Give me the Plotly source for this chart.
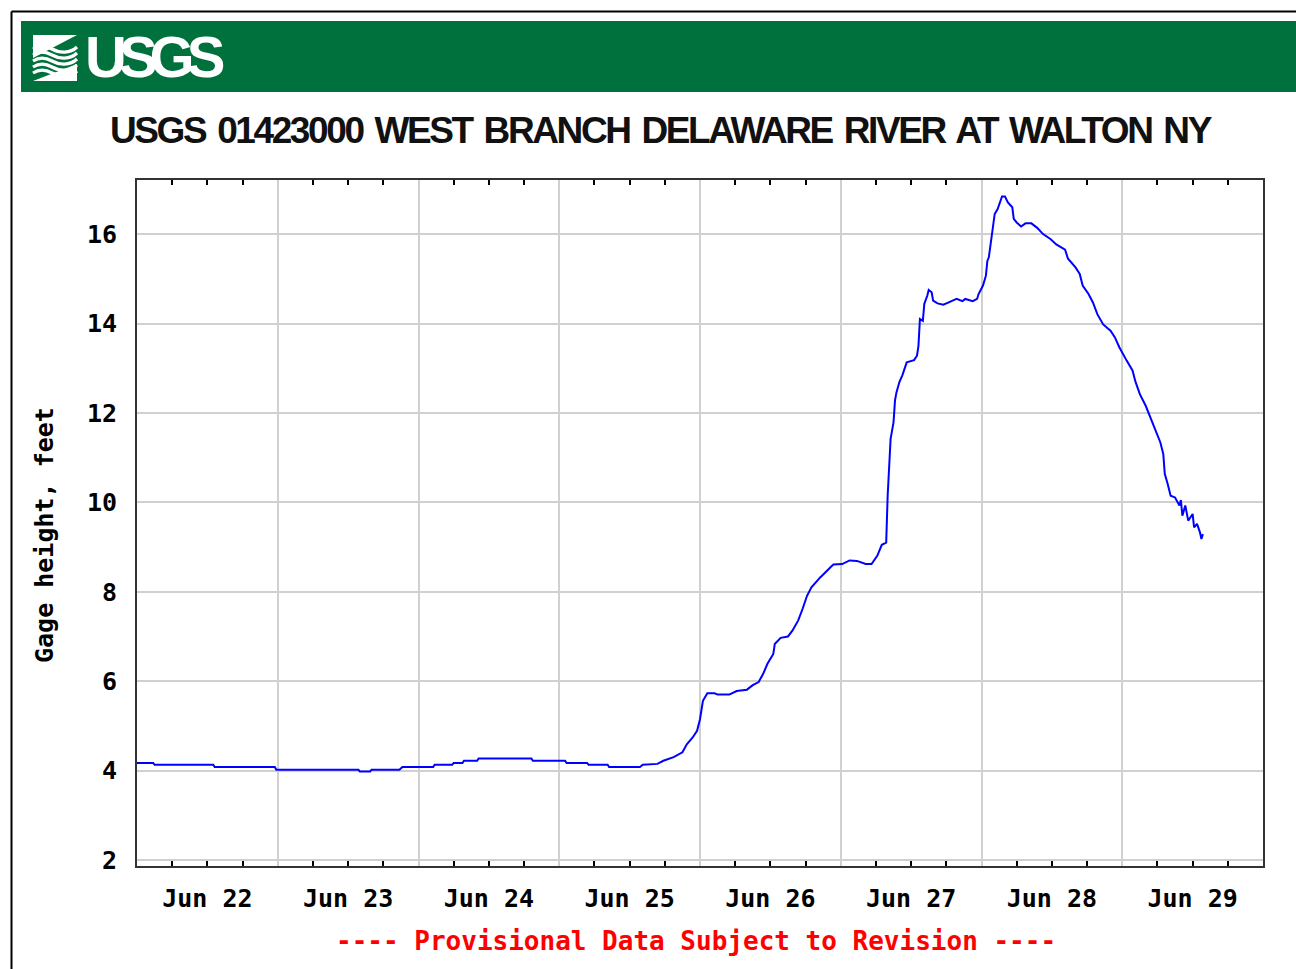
import plotly.graph_objects as go

# ---------------- data ----------------
times = [
    "2006-06-22 00:00", "2006-06-22 02:45", "2006-06-22 03:00", "2006-06-22 13:00", "2006-06-22 13:15",
    "2006-06-22 23:30", "2006-06-22 23:45", "2006-06-23 13:45", "2006-06-23 14:00", "2006-06-23 15:45",
    "2006-06-23 16:00", "2006-06-23 20:45", "2006-06-23 21:15", "2006-06-24 02:30", "2006-06-24 02:45",
    "2006-06-24 05:45", "2006-06-24 06:00", "2006-06-24 07:30", "2006-06-24 07:45", "2006-06-24 10:00",
    "2006-06-24 10:15", "2006-06-24 19:15", "2006-06-24 19:30", "2006-06-25 01:00", "2006-06-25 01:15",
    "2006-06-25 04:45", "2006-06-25 05:00", "2006-06-25 08:15", "2006-06-25 08:30", "2006-06-25 13:45",
    "2006-06-25 14:15", "2006-06-25 16:45", "2006-06-25 17:45", "2006-06-25 19:30", "2006-06-25 21:00",
    "2006-06-25 21:45", "2006-06-25 22:45", "2006-06-25 23:30", "2006-06-26 00:00", "2006-06-26 00:30",
    "2006-06-26 01:15", "2006-06-26 02:30", "2006-06-26 03:00", "2006-06-26 05:00", "2006-06-26 06:15",
    "2006-06-26 08:00", "2006-06-26 09:00", "2006-06-26 10:00", "2006-06-26 10:45", "2006-06-26 11:30",
    "2006-06-26 12:30", "2006-06-26 12:45", "2006-06-26 13:45", "2006-06-26 15:00", "2006-06-26 15:45",
    "2006-06-26 16:45", "2006-06-26 17:30", "2006-06-26 18:15", "2006-06-26 19:00", "2006-06-26 20:30",
    "2006-06-26 22:15", "2006-06-26 22:45", "2006-06-27 00:15", "2006-06-27 01:30", "2006-06-27 02:45",
    "2006-06-27 04:15", "2006-06-27 05:15", "2006-06-27 06:15", "2006-06-27 07:00", "2006-06-27 07:45",
    "2006-06-27 08:00", "2006-06-27 08:15", "2006-06-27 08:30", "2006-06-27 09:00", "2006-06-27 09:15",
    "2006-06-27 09:30", "2006-06-27 10:00", "2006-06-27 10:30", "2006-06-27 11:00", "2006-06-27 11:15",
    "2006-06-27 12:30", "2006-06-27 13:00", "2006-06-27 13:15", "2006-06-27 13:30", "2006-06-27 14:00",
    "2006-06-27 14:15", "2006-06-27 14:45", "2006-06-27 15:00", "2006-06-27 15:30", "2006-06-27 15:45",
    "2006-06-27 16:30", "2006-06-27 17:30", "2006-06-27 18:30", "2006-06-27 19:45", "2006-06-27 20:45",
    "2006-06-27 21:15", "2006-06-27 22:30", "2006-06-27 23:15", "2006-06-27 23:30", "2006-06-28 00:15",
    "2006-06-28 00:45", "2006-06-28 01:00", "2006-06-28 01:15", "2006-06-28 01:45", "2006-06-28 02:15",
    "2006-06-28 02:45", "2006-06-28 03:30", "2006-06-28 04:00", "2006-06-28 04:30", "2006-06-28 05:15",
    "2006-06-28 05:30", "2006-06-28 06:00", "2006-06-28 06:45", "2006-06-28 07:30", "2006-06-28 08:30",
    "2006-06-28 09:30", "2006-06-28 10:30", "2006-06-28 11:45", "2006-06-28 12:45", "2006-06-28 14:15",
    "2006-06-28 14:45", "2006-06-28 16:00", "2006-06-28 16:45", "2006-06-28 17:15", "2006-06-28 18:15",
    "2006-06-28 19:00", "2006-06-28 19:45", "2006-06-28 20:45", "2006-06-28 22:00", "2006-06-28 22:45",
    "2006-06-28 23:30", "2006-06-29 00:45", "2006-06-29 01:45", "2006-06-29 02:15", "2006-06-29 03:00",
    "2006-06-29 04:00", "2006-06-29 04:45", "2006-06-29 05:30", "2006-06-29 06:30", "2006-06-29 07:00",
    "2006-06-29 07:15", "2006-06-29 07:45", "2006-06-29 08:15", "2006-06-29 09:00", "2006-06-29 09:45",
    "2006-06-29 10:00", "2006-06-29 10:15", "2006-06-29 10:45", "2006-06-29 11:15", "2006-06-29 12:00",
    "2006-06-29 12:15", "2006-06-29 12:45", "2006-06-29 13:15", "2006-06-29 13:30", "2006-06-29 13:45",
]
gage_height_ft = [
    4.17, 4.17, 4.13, 4.13, 4.08,
    4.08, 4.02, 4.02, 3.98, 3.98,
    4.02, 4.02, 4.08, 4.08, 4.13,
    4.13, 4.17, 4.17, 4.22, 4.22,
    4.27, 4.27, 4.22, 4.22, 4.17,
    4.17, 4.13, 4.13, 4.08, 4.08,
    4.13, 4.15, 4.22, 4.30, 4.41,
    4.59, 4.74, 4.89, 5.15, 5.56,
    5.73, 5.73, 5.70, 5.70, 5.78,
    5.81, 5.91, 5.98, 6.16, 6.39,
    6.61, 6.83, 6.97, 7.00, 7.13,
    7.36, 7.62, 7.91, 8.10, 8.32,
    8.55, 8.61, 8.62, 8.70, 8.69,
    8.62, 8.62, 8.81, 9.05, 9.10,
    10.15, 10.82, 11.42, 11.79, 12.28,
    12.46, 12.69, 12.84, 13.02, 13.13,
    13.18, 13.28, 13.50, 14.10, 14.06,
    14.44, 14.62, 14.75, 14.70, 14.51,
    14.45, 14.42, 14.48, 14.55, 14.50,
    14.55, 14.50, 14.55, 14.66, 14.85,
    15.07, 15.40, 15.48, 15.93, 16.45,
    16.56, 16.84, 16.84, 16.71, 16.60,
    16.34, 16.26, 16.17, 16.24, 16.24,
    16.14, 16.00, 15.89, 15.77, 15.65,
    15.45, 15.26, 15.11, 14.85, 14.66,
    14.47, 14.21, 13.98, 13.84, 13.69,
    13.47, 13.17, 12.95, 12.70, 12.42,
    12.16, 11.90, 11.64, 11.34, 11.08,
    10.64, 10.41, 10.15, 10.11, 9.93,
    10.05, 9.70, 9.93, 9.59, 9.74,
    9.44, 9.52, 9.33, 9.18, 9.29,
]
x_range = ["2006-06-22 00:00", "2006-06-30 00:00"]
y_range = [1.866, 17.21]
y_ticks = [2, 4, 6, 8, 10, 12, 14, 16]

title_text = "USGS 01423000 WEST BRANCH DELAWARE RIVER AT WALTON NY"
y_title = "Gage height, feet"
footer_text = "---- Provisional Data Subject to Revision ----"
logo_text = "USGS"

# ---------------- layout geometry (pixels) ----------------
W, H = 1296, 969
L, R, T, B = 137, 1263, 180, 866

def xp(px):
    return (px - L) / (R - L)

def yp(py):
    return (B - py) / (B - T)

MONO = "DejaVu Sans Mono, Liberation Mono, monospace"
SANS = "Liberation Sans, Arial, sans-serif"

fig = go.Figure()
fig.add_trace(go.Scatter(
    x=times, y=gage_height_ft, mode="lines",
    line=dict(color="#0000FF", width=2),
    showlegend=False, hoverinfo="x+y",
))

shapes = []
# outer frame (left + top visible)
shapes.append(dict(type="line", xref="paper", yref="paper",
                   x0=xp(11.5), x1=xp(1300), y0=yp(11.5), y1=yp(11.5),
                   line=dict(color="#000", width=2)))
shapes.append(dict(type="line", xref="paper", yref="paper",
                   x0=xp(11.5), x1=xp(11.5), y0=yp(11.5), y1=yp(975),
                   line=dict(color="#000", width=2)))
# green banner
shapes.append(dict(type="rect", xref="paper", yref="paper",
                   x0=xp(21), x1=xp(1300), y0=yp(92), y1=yp(21),
                   fillcolor="#00703C", line=dict(width=0), layer="below"))

# wave logo mark (white wavy stripes)
def wave_path(y0, amp):
    d = "M %.5f,%.5f" % (xp(33), yp(y0))
    d += " C %.5f,%.5f %.5f,%.5f %.5f,%.5f" % (xp(39), yp(y0 - amp), xp(45), yp(y0 - amp), xp(52), yp(y0))
    d += " S %.5f,%.5f %.5f,%.5f" % (xp(70), yp(y0 + amp * 1.2), xp(77), yp(y0 - 2))
    return d

shapes.append(dict(type="path", xref="paper", yref="paper",
                   path="M %f,%f L %f,%f L %f,%f Z" % (xp(33), yp(35), xp(77), yp(35), xp(33), yp(58)),
                   fillcolor="white", line=dict(width=0)))
for yy in [49, 55, 61, 67, 73]:
    shapes.append(dict(type="path", xref="paper", yref="paper",
                       path=wave_path(yy, 4),
                       line=dict(color="white", width=3.2)))
shapes.append(dict(type="path", xref="paper", yref="paper",
                   path="M %f,%f L %f,%f L %f,%f Z" % (xp(33), yp(81), xp(77), yp(81), xp(77), yp(64)),
                   fillcolor="white", line=dict(width=0)))

annotations = [
    dict(text='<span style="letter-spacing:-8px">%s</span>' % logo_text,
         xref="paper", yref="paper", x=xp(83), y=yp(57),
         xanchor="left", yanchor="middle", showarrow=False,
         font=dict(family=SANS, size=58, color="white", weight="bold")),
    dict(text='<span style="letter-spacing:-2.4px;word-spacing:4px">%s</span>' % title_text,
         xref="paper", yref="paper", x=xp(661), y=yp(130),
         xanchor="center", yanchor="middle", showarrow=False,
         font=dict(family=SANS, size=37, color="#111", weight="bold")),
    dict(text=y_title, xref="paper", yref="paper", x=xp(44), y=yp(535),
         xanchor="center", yanchor="middle", showarrow=False, textangle=-90,
         font=dict(family=MONO, size=25, color="#000", weight="bold")),
    dict(text=footer_text, xref="paper", yref="paper", x=xp(696), y=yp(941),
         xanchor="center", yanchor="middle", showarrow=False,
         font=dict(family=MONO, size=26, color="#FF0000", weight="bold")),
]

fig.update_layout(
    width=W, height=H,
    margin=dict(l=L, r=W - R, t=T, b=H - B, autoexpand=False),
    paper_bgcolor="white", plot_bgcolor="white",
    shapes=shapes, annotations=annotations,
    showlegend=False,
)
fig.update_xaxes(
    type="date", range=x_range,
    tick0="2006-06-22", dtick=86400000, ticklabelmode="period",
    tickformat="%b %d", ticks="",
    showgrid=True, gridcolor="#D0D0D0", gridwidth=2,
    showline=True, linecolor="#333", linewidth=2, mirror="allticks",
    minor=dict(dtick=21600000, tick0="2006-06-22", ticks="inside", ticklen=5,
               tickwidth=1.5, tickcolor="#000", showgrid=False),
    tickfont=dict(family=MONO, size=25, color="#000", weight="bold"),
    ticklabelstandoff=9, automargin=False,
)
fig.update_yaxes(
    range=y_range, tickvals=y_ticks, ticks="",
    showgrid=True, gridcolor="#D0D0D0", gridwidth=2,
    showline=True, linecolor="#333", linewidth=2, mirror=True,
    zeroline=False,
    tickfont=dict(family=MONO, size=25, color="#000", weight="bold"),
    ticklabelstandoff=13, automargin=False,
)

fig.write_html("out.html", config={"displayModeBar": False},
               post_script="document.body.style.margin='0';")
